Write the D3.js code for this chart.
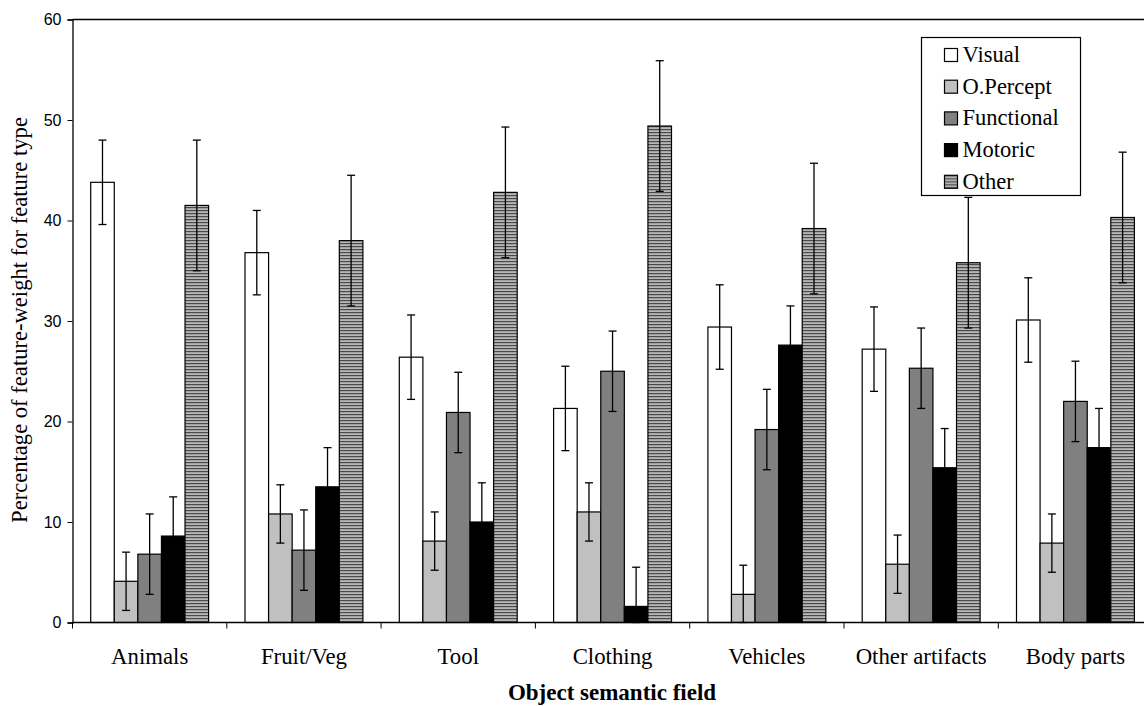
<!DOCTYPE html>
<html>
<head>
<meta charset="utf-8">
<script src="https://cdn.jsdelivr.net/npm/d3@7"></script>
<style>
body { margin: 0; background: #fff; }
svg { display: block; }
</style>
</head>
<body>
<svg></svg>
<script>
const categories = ['Animals', 'Fruit/Veg', 'Tool', 'Clothing', 'Vehicles', 'Other artifacts', 'Body parts'];
const series = ['Visual', 'O.Percept', 'Functional', 'Motoric', 'Other'];

// one array per feature type, values in category order
const visual     = [43.8, 36.8, 26.4, 21.3, 29.4, 27.2, 30.1];
const opercept   = [4.1, 10.8, 8.1, 11.0, 2.8, 5.8, 7.9];
const functional = [6.8, 7.2, 20.9, 25.0, 19.2, 25.3, 22.0];
const motoric    = [8.6, 13.5, 10.0, 1.6, 27.6, 15.4, 17.4];
const other      = [41.5, 38.0, 42.8, 49.4, 39.2, 35.8, 40.3];
const errors     = [4.2, 2.9, 4.0, 3.9, 6.5];   // error bar half-length per feature type

const yTicks = [0, 10, 20, 30, 40, 50, 60];

const values = [visual, opercept, functional, motoric, other];
const fills = ['#ffffff', '#c0c0c0', '#808080', '#000000', 'url(#hatch)'];

const width = 1144;
const height = 706;
const margin = {left: 72.5, top: 19.5, bottom: 83};
const serif = '"Liberation Serif", "Times New Roman", serif';

const svg = d3.select('svg')
	.attr('width', width)
	.attr('height', height);

// horizontal stripes for "Other"
const pat = svg.append('defs').append('pattern')
	.attr('id', 'hatch')
	.attr('patternUnits', 'userSpaceOnUse')
	.attr('width', 6).attr('height', 3);
pat.append('rect').attr('width', 6).attr('height', 3).attr('fill', '#b8b8b8');
pat.append('rect').attr('y', 0).attr('width', 6).attr('height', 1.2).attr('fill', '#4a4a4a');

const bandW = 154.3;
const x = d3.scaleBand()
	.domain(categories)
	.range([margin.left, margin.left + bandW * categories.length]);

const xs = d3.scaleBand()
	.domain(series)
	.range([18.2, bandW - 18.2]);

const y = d3.scaleLinear()
	.domain([0, 60])
	.range([height - margin.bottom - 0.5, margin.top]);

// plot frame top line (chart is cropped at the right)
svg.append('line')
	.attr('x1', margin.left).attr('x2', width)
	.attr('y1', y(60)).attr('y2', y(60))
	.attr('stroke', '#000').attr('stroke-width', 1.3);

// bars
const rows = [];
categories.forEach((c, i) => {
	series.forEach((s, j) => {
		rows.push({cat: c, ser: s, j: j, v: values[j][i], e: errors[j]});
	});
});

const g = svg.append('g');
g.selectAll('rect.bar')
	.data(rows)
	.join('rect')
		.attr('class', 'bar')
		.attr('x', d => x(d.cat) + xs(d.ser))
		.attr('y', d => y(d.v))
		.attr('width', xs.bandwidth())
		.attr('height', d => y(0) - y(d.v))
		.attr('fill', d => fills[d.j])
		.attr('stroke', '#000')
		.attr('stroke-width', 1.2);

// error bars
const cap = 4;
const eb = g.selectAll('g.err')
	.data(rows)
	.join('g')
		.attr('class', 'err')
		.attr('transform', d => `translate(${x(d.cat) + xs(d.ser) + xs.bandwidth() / 2},0)`);
eb.append('line')
	.attr('y1', d => y(Math.max(0, d.v - d.e)))
	.attr('y2', d => y(d.v + d.e))
	.attr('stroke', '#000').attr('stroke-width', 1.3);
eb.append('line')
	.attr('x1', -cap).attr('x2', cap)
	.attr('y1', d => y(d.v + d.e)).attr('y2', d => y(d.v + d.e))
	.attr('stroke', '#000').attr('stroke-width', 1.3);
eb.append('line')
	.attr('x1', -cap).attr('x2', cap)
	.attr('y1', d => y(Math.max(0, d.v - d.e))).attr('y2', d => y(Math.max(0, d.v - d.e)))
	.attr('stroke', '#000').attr('stroke-width', 1.3);

// y axis
const yAxis = svg.append('g')
	.attr('transform', `translate(${margin.left},0)`)
	.call(d3.axisLeft(y).tickValues(yTicks).tickSize(5).tickPadding(6));
yAxis.select('.domain').attr('stroke-width', 1.3);
yAxis.selectAll('text')
	.attr('font-family', '"Liberation Sans", Arial, sans-serif')
	.attr('font-size', 16)
	.attr('fill', '#000');

// x axis: ticks at category boundaries
const xAxis = svg.append('g').attr('transform', `translate(0,${y(0)})`);
xAxis.append('line')
	.attr('x1', margin.left).attr('x2', width)
	.attr('stroke', '#000').attr('stroke-width', 1.3);
xAxis.selectAll('line.tk')
	.data(categories)
	.join('line')
		.attr('class', 'tk')
		.attr('x1', d => x(d)).attr('x2', d => x(d))
		.attr('y1', 0).attr('y2', 6)
		.attr('stroke', '#000');
xAxis.selectAll('text')
	.data(categories)
	.join('text')
		.attr('x', d => x(d) + x.bandwidth() / 2)
		.attr('y', 41)
		.attr('text-anchor', 'middle')
		.attr('font-family', serif)
		.attr('font-size', 22.8)
		.text(d => d);

// axis titles
svg.append('text')
	.attr('x', 612).attr('y', 700)
	.attr('text-anchor', 'middle')
	.attr('font-family', serif)
	.attr('font-weight', 'bold')
	.attr('font-size', 23)
	.text('Object semantic field');

svg.append('text')
	.attr('transform', 'translate(27,320) rotate(-90)')
	.attr('text-anchor', 'middle')
	.attr('font-family', serif)
	.attr('font-size', 22.6)
	.text('Percentage of feature-weight for feature type');

// legend
const lg = svg.append('g').attr('transform', 'translate(921.5,37.5)');
lg.append('rect')
	.attr('width', 159).attr('height', 158)
	.attr('fill', '#fff').attr('stroke', '#000').attr('stroke-width', 1.2);
const li = lg.selectAll('g.item')
	.data(series)
	.join('g')
		.attr('class', 'item')
		.attr('transform', (d, i) => `translate(23,${17 + i * 31.7})`);
li.append('rect')
	.attr('y', -6).attr('width', 13).attr('height', 13)
	.attr('fill', (d, i) => fills[i])
	.attr('stroke', '#000').attr('stroke-width', 1.2);
li.append('text')
	.attr('x', 18).attr('y', 7.5)
	.attr('font-family', serif)
	.attr('font-size', 22.5)
	.text(d => d);
</script>
</body>
</html>
